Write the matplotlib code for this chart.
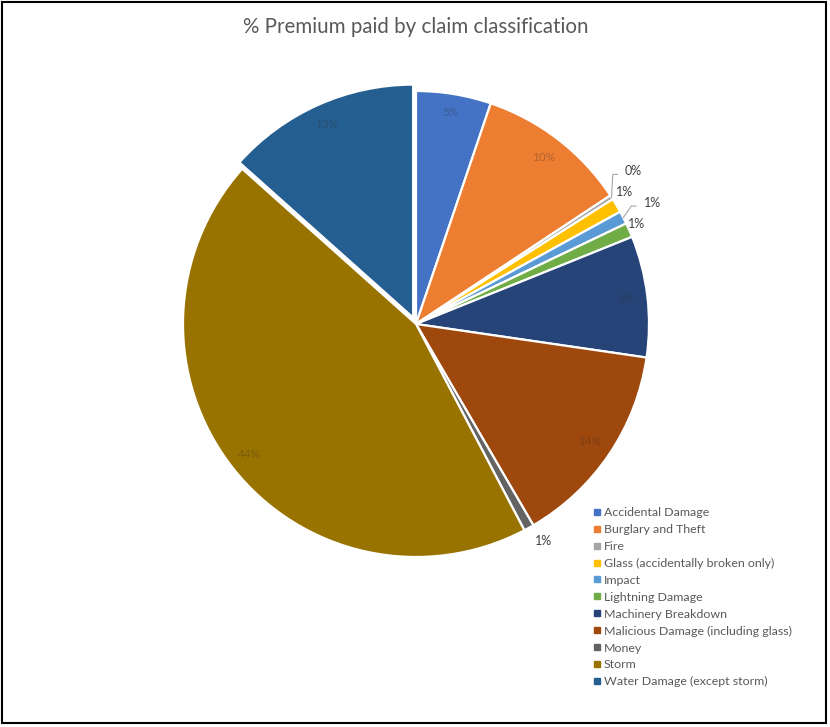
import numpy as np
import matplotlib
matplotlib.use('Agg')
import matplotlib.pyplot as plt
from matplotlib.lines import Line2D
from matplotlib.patches import Rectangle

plt.rcParams['font.family'] = ['Lato', 'DejaVu Sans']

# data (% of premium)
categories = ['Accidental Damage', 'Burglary and Theft', 'Fire',
              'Glass (accidentally broken only)', 'Impact', 'Lightning Damage',
              'Machinery Breakdown', 'Malicious Damage (including glass)',
              'Money', 'Storm', 'Water Damage (except storm)']
shares = [5.2, 10.5, 0.3, 1.0, 0.9, 1.0, 8.4, 14.3, 0.7, 44.3, 13.4]
colors = ['#4472C4', '#ED7D31', '#A5A5A5', '#FFC000', '#5B9BD5', '#70AD47',
          '#264478', '#9E480E', '#636363', '#997300', '#255E91']
explode = [0, 0, 0, 0, 0, 0, 0, 0, 0, 0, 0.03]
# label distance per slice (inside labels ~0.91, small slices outside)
label_dist = [0.92, 0.90, 1.14, 1.06, 1.14, 1.04, 0.91, 0.90, 1.08, 0.91, 0.91]
label_shift = [0, 0, 2.3, 1.6, 0, 0.5, 0, 0, 1.6, 0, 0]  # degrees
leader = [False, False, True, False, True, False, False, False, False, False, False]

W, H = 830, 727
fig = plt.figure(figsize=(W / 100, H / 100), dpi=100)
fig.patch.set_facecolor('white')

cx, cy, R = 416, 324, 233
ax = fig.add_axes([(cx - R) / W, (H - cy - R) / H, 2 * R / W, 2 * R / H])
wedges, _ = ax.pie(shares, colors=colors, explode=explode, startangle=90,
                   counterclock=False, radius=1,
                   wedgeprops=dict(edgecolor='white', linewidth=1.6))
ax.set_xlim(-1, 1)
ax.set_ylim(-1, 1)
ax.set_aspect('equal')
ax.axis('off')

for i, w in enumerate(wedges):
    mid = np.deg2rad((w.theta1 + w.theta2) / 2 + label_shift[i])
    ox, oy = w.center
    d = label_dist[i]
    txt = f"{shares[i]:.0f}%"
    if d < 1:
        ax.text(ox + d * np.cos(mid), oy + d * np.sin(mid), txt, ha='center',
                va='center', fontsize=8.5, color='#2b2b2b', alpha=0.3)
    else:
        tx, ty = d * np.cos(mid), d * np.sin(mid)
        ax.text(tx, ty, txt, ha='center', va='center', fontsize=9,
                color='#404040', clip_on=False)
        if leader[i]:
            m0 = np.deg2rad((w.theta1 + w.theta2) / 2)
            ex, ey = (d - 0.045) * np.cos(mid) - 0.03, (d - 0.01) * np.sin(mid) - 0.01
            ax.plot([1.0 * np.cos(m0), ex - 0.02, ex],
                    [1.0 * np.sin(m0), ey, ey],
                    color='#a6a6a6', lw=0.8, clip_on=False)

fig.text(416 / W, 1 - 27 / H, '% Premium paid by claim classification',
         ha='center', va='center', fontsize=14.8, color='#595959')

handles = [Line2D([], [], marker='s', linestyle='none', markersize=4,
                  markerfacecolor=c, markeredgecolor=c) for c in colors]
fig.legend(handles, categories, loc='upper left',
           bbox_to_anchor=(593 / W, 1 - 507 / H), frameon=False,
           fontsize=8.9, labelcolor='#595959', handlelength=0.6,
           handletextpad=0.3, labelspacing=0.48, borderpad=0, borderaxespad=0)

fig.patches.append(Rectangle((2 / W, 4 / H), 824 / W, 721 / H,
                             transform=fig.transFigure, fill=False,
                             edgecolor='black', linewidth=1.5))

fig.savefig('out.png', dpi=100)
